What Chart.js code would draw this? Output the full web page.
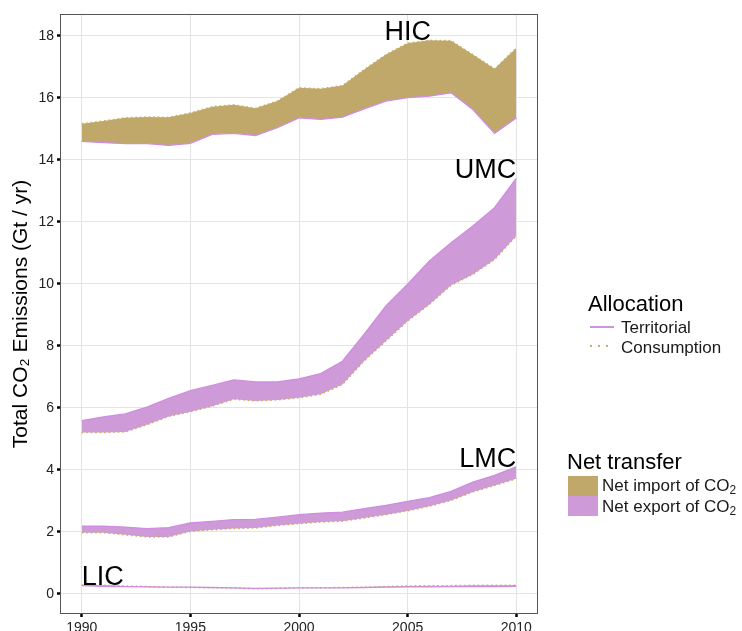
<!DOCTYPE html>
<html><head><meta charset="utf-8">
<script src="https://cdn.jsdelivr.net/npm/chart.js@4"></script>
<style>
html,body{margin:0;padding:0;background:#fff;}
#wrap{position:relative;width:742px;height:631px;font-family:"Liberation Sans",Arial,sans-serif;overflow:hidden;}
canvas{position:absolute;left:0;top:0;}
.lg{position:absolute;white-space:nowrap;line-height:1;color:#000;}
.t{font-size:22px;}
.l{font-size:17px;color:#1a1a1a;}
sub{font-size:0.7em;line-height:0;vertical-align:-0.28em;}
.key{position:absolute;}
</style></head><body>
<div id="wrap">
<canvas id="c" width="742" height="631"></canvas>
<div class="lg t" style="left:588px;top:293px">Allocation</div>
<div class="key" style="left:590px;top:326px;width:24px;height:2px;background:#CF92DE"></div>
<div class="lg l" style="left:621px;top:318.5px">Territorial</div>
<div class="key" style="left:590px;top:345px;width:24px;height:2px;background-image:linear-gradient(to right,#C8AE6E 2px,transparent 2px);background-size:8px 2px"></div>
<div class="lg l" style="left:621px;top:338.5px">Consumption</div>
<div class="lg t" style="left:567px;top:451px">Net transfer</div>
<div class="key" style="left:568px;top:476px;width:30px;height:20px;background:rgb(191,168,106)"></div>
<div class="key" style="left:568px;top:496px;width:30px;height:20px;background:rgb(207,154,216)"></div>
<div class="lg l" style="left:602px;top:477px">Net import of CO<sub>2</sub></div>
<div class="lg l" style="left:602px;top:497.5px">Net export of CO<sub>2</sub></div>
</div>
<script>
const years = [1990,1991,1992,1993,1994,1995,1996,1997,1998,1999,2000,2001,2002,2003,2004,2005,2006,2007,2008,2009,2010];
const hicTerritorial = [14.59,14.55,14.52,14.52,14.46,14.53,14.82,14.85,14.78,15.03,15.35,15.30,15.37,15.64,15.89,16.00,16.05,16.16,15.62,14.85,15.35];
const hicConsumption = [15.16,15.25,15.35,15.38,15.37,15.51,15.71,15.77,15.66,15.89,16.32,16.29,16.39,16.91,17.39,17.76,17.85,17.84,17.39,16.93,17.60];
const umcTerritorial = [5.58,5.70,5.80,6.02,6.30,6.55,6.72,6.90,6.83,6.83,6.93,7.10,7.50,8.37,9.28,9.98,10.73,11.32,11.86,12.45,13.40];
const umcConsumption = [5.20,5.20,5.22,5.45,5.72,5.87,6.05,6.27,6.22,6.25,6.32,6.43,6.75,7.51,8.15,8.80,9.33,9.95,10.30,10.78,11.54];
const lmcTerritorial = [2.18,2.18,2.15,2.10,2.13,2.28,2.33,2.39,2.40,2.47,2.55,2.60,2.63,2.74,2.85,2.98,3.10,3.30,3.60,3.82,4.09];
const lmcConsumption = [1.97,1.97,1.90,1.83,1.83,2.01,2.06,2.10,2.12,2.20,2.26,2.31,2.34,2.44,2.55,2.67,2.82,3.01,3.28,3.49,3.71];
const licTerritorial = [0.26,0.24,0.23,0.22,0.21,0.21,0.20,0.19,0.17,0.18,0.19,0.19,0.19,0.20,0.21,0.22,0.22,0.23,0.23,0.23,0.24];
const licConsumption = [0.28,0.27,0.25,0.23,0.21,0.20,0.19,0.18,0.16,0.17,0.19,0.19,0.20,0.21,0.23,0.25,0.26,0.26,0.27,0.27,0.27];
const groupLabels = [
  {text:'HIC', x:2005, y:17.85, align:'center'},
  {text:'UMC', x:2010, y:13.40, align:'right'},
  {text:'LMC', x:2010, y:4.09, align:'right'},
  {text:'LIC', x:1990, y:0.28, align:'left'}
];
const xTicks = [1990,1995,2000,2005,2010];
const yTicks = [0,2,4,6,8,10,12,14,16,18];

const TAN = 'rgb(191,168,106)';
const PINK = 'rgb(207,154,216)';
const TERR_LINE = 'rgb(208,140,226)';
const CONS_LINE = 'rgb(200,172,100)';
const FONT = '"Liberation Sans", Arial, sans-serif';

const toPts = arr => years.map((yr,i)=>({x:yr, y:arr[i]}));
const groups = [
  [hicTerritorial, hicConsumption],
  [umcTerritorial, umcConsumption],
  [lmcTerritorial, lmcConsumption],
  [licTerritorial, licConsumption]
];
const datasets = [];
groups.forEach(([terr, cons]) => {
  const ti = datasets.length;
  datasets.push({data:toPts(terr), borderColor:TERR_LINE, borderWidth:1.3, pointRadius:0, tension:0, fill:false});
  datasets.push({data:toPts(cons), borderColor:CONS_LINE, borderWidth:1.5, borderDash:[1.5,3], pointRadius:0, tension:0,
    fill:{target:ti, above:TAN, below:PINK}});
});

const boxPlugin = {
  id:'box',
  afterDatasetsDraw(chart){
    const {ctx, chartArea:a, scales:{x,y}} = chart;
    ctx.save();
    ctx.font = '27px ' + FONT;
    ctx.fillStyle = '#000';
    ctx.textBaseline = 'alphabetic';
    groupLabels.forEach(l => {
      ctx.textAlign = l.align;
      ctx.fillText(l.text, x.getPixelForValue(l.x), y.getPixelForValue(l.y));
    });
    ctx.strokeStyle = '#555';
    ctx.lineWidth = 1;
    ctx.strokeRect(a.left+0.5, a.top+0.5, a.right-a.left-1, a.bottom-a.top-1);
    ctx.restore();
  }
};

new Chart(document.getElementById('c'), {
  type:'line',
  data:{datasets},
  options:{
    responsive:false,
    animation:false,
    layout:{padding:{left:0, right:204, top:14, bottom:0}},
    plugins:{legend:{display:false}, tooltip:{enabled:false}},
    scales:{
      x:{
        type:'linear', min:1989, max:2011,
        afterBuildTicks: s => { s.ticks = xTicks.map(v=>({value:v})); },
        afterFit: s => { s.height = 17; },
        ticks:{font:{size:14, family:FONT}, color:'#222', padding:3, maxRotation:0, callback:v=>String(v)},
        grid:{color:'#e4e4e4', lineWidth:1, tickLength:3, tickColor:'#000', tickWidth:2.5},
        border:{display:false}
      },
      y:{
        type:'linear', min:-0.655, max:18.70,
        afterBuildTicks: s => { s.ticks = yTicks.map(v=>({value:v})); },
        afterFit: s => { s.width = 60; },
        ticks:{font:{size:14, family:FONT}, color:'#222', padding:3},
        grid:{color:'#e4e4e4', lineWidth:1, tickLength:3, tickColor:'#000', tickWidth:2.5},
        border:{display:false},
        title:{display:true, text:'Total CO\u2082 Emissions (Gt / yr)', font:{size:21, family:FONT}, color:'#000', padding:{top:9,bottom:0}}
      }
    }
  },
  plugins:[boxPlugin]
});
</script>
</body></html>
